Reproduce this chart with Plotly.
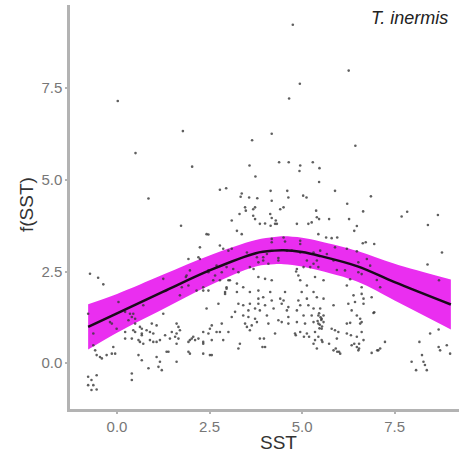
import plotly.graph_objects as go

# fitted smooth f(SST) and its confidence half-width
curve_sst = [-0.78, 0.0, 1.25, 2.5, 3.75, 4.25, 4.5, 5.0, 5.5, 6.5, 7.5, 9.02]
curve_f = [0.99, 1.36, 1.95, 2.53, 3.00, 3.07, 3.08, 3.03, 2.92, 2.64, 2.21, 1.60]
curve_half = [0.62, 0.53, 0.47, 0.41, 0.36, 0.37, 0.38, 0.39, 0.40, 0.42, 0.50, 0.68]

# partial residuals (SST, f(SST))
obs = [
    (0.02, 7.15), (1.78, 6.33), (0.5, 5.73), (2.03, 5.36), (3.65, 6.08), (3.58, 5.39), (3.74, 5.09),
    (0.85, 4.49), (2.78, 4.73), (2.95, 4.77), (4.75, 9.23), (6.26, 7.98), (4.94, 7.62), (4.65, 7.22),
    (4.18, 6.26), (6.44, 5.93), (4.38, 5.48), (4.64, 5.48), (4.95, 5.39), (4.93, 5.24), (5.29, 5.48),
    (5.47, 5.32), (5.46, 4.94), (5.89, 4.70), (6.86, 4.55), (4.15, 4.70), (3.34, 4.54), (3.57, 4.52),
    (3.79, 4.50), (5.03, 4.57), (5.12, 4.52), (3.37, 4.63), (4.18, 4.43), (4.60, 4.70), (4.63, 4.52),
    (6.22, 4.35), (6.65, 4.14), (7.69, 4.0), (7.84, 4.13), (8.67, 4.04), (6.27, 3.93), (8.4, 3.77),
    (6.48, 3.74), (6.41, 3.61), (5.95, 3.43), (5.80, 3.41), (6.64, 3.27), (6.72, 3.30), (6.95, 3.25),
    (8.78, 3.02), (8.39, 2.69), (8.70, 2.26),
    (5.89, 3.16), (6.21, 3.12), (6.48, 3.05), (6.52, 2.75), (6.75, 2.84), (6.84, 2.66), (5.94, 2.54),
    (6.16, 2.53), (6.52, 2.48), (6.61, 2.43), (7.02, 2.27), (6.30, 2.29), (7.11, 2.07), (6.21, 2.12),
    (6.61, 2.07), (5.85, 2.80),
    (6.39, 1.85), (6.61, 1.89), (6.88, 1.80), (6.66, 1.76), (5.85, 1.58), (6.25, 1.62), (6.43, 1.67),
    (6.66, 1.62), (6.34, 1.44), (6.93, 1.37), (6.48, 1.30), (6.57, 1.21), (6.21, 1.08), (6.30, 1.10),
    (6.57, 1.08), (6.61, 1.12), (5.80, 0.94), (5.89, 0.90), (5.98, 0.85), (6.21, 0.81), (6.61, 0.85),
    (5.94, 0.67), (6.48, 0.72), (6.66, 0.63), (6.34, 0.49), (6.48, 0.44), (6.52, 0.35), (5.85, 0.35),
    (6.03, 0.26), (6.88, 0.28), (7.06, 0.35), (7.11, 0.40), (7.24, 0.58), (8.46, 0.81), (8.69, 0.92),
    (8.17, 0.58), (8.69, 0.44), (8.73, 0.35), (8.91, 0.49), (9.0, 0.26), (8.24, 0.22), (8.28, 0.04),
    (8.32, -0.05), (8.37, -0.19), (7.96, 0.04), (8.08, -0.19), (6.95, 1.39), (6.0, 0.31), (6.41, 0.53),
    (6.54, 0.40), (7.03, 0.35),
    (3.46, 4.25), (3.68, 4.20), (3.73, 4.25), (3.31, 4.07), (3.10, 3.89), (4.41, 4.20), (4.50, 4.25),
    (4.14, 4.07), (4.18, 3.96), (4.27, 3.80), (4.32, 3.80), (3.86, 3.80), (4.0, 3.81), (3.68, 4.02),
    (3.73, 3.93), (4.86, 3.80), (5.17, 3.80), (5.26, 3.84), (5.38, 4.16), (5.40, 3.98), (3.24, 3.61),
    (3.37, 3.52), (2.42, 3.52), (5.44, 3.52), (5.65, 3.43), (3.48, 4.16), (4.29, 3.89), (4.15, 3.75),
    (5.46, 3.93), (5.73, 3.93),
    (4.18, 3.39), (4.18, 3.30), (4.50, 3.43), (4.54, 3.32), (4.95, 3.34), (4.95, 3.25), (2.87, 3.12),
    (3.01, 3.07), (3.10, 3.12), (3.51, 3.02), (3.78, 2.89), (3.95, 2.89), (4.05, 2.98), (4.36, 2.87),
    (4.59, 3.07), (4.72, 3.07), (4.95, 3.02), (5.13, 2.80), (5.31, 3.02), (5.40, 2.80), (5.44, 2.62),
    (5.49, 3.07), (5.67, 2.98), (2.47, 2.53), (2.65, 2.39), (3.14, 2.57), (3.28, 2.48), (3.59, 2.62),
    (3.69, 2.57), (3.82, 2.75), (3.95, 2.80), (4.09, 2.71), (4.36, 2.80), (4.86, 2.57), (5.04, 2.62),
    (5.22, 2.62), (5.31, 2.71),
    (3.01, 2.26), (3.24, 2.17), (3.41, 2.07), (3.82, 2.35), (4.0, 2.30), (4.18, 2.26), (4.84, 2.50),
    (4.90, 2.39), (4.95, 2.26), (5.13, 2.12), (5.35, 2.35), (5.58, 2.26), (2.96, 2.07), (2.33, 2.07),
    (2.92, 1.94), (3.24, 1.94), (3.59, 1.94), (3.82, 1.98), (4.14, 1.94), (4.54, 1.94), (4.99, 1.94),
    (5.31, 1.94), (3.82, 1.76), (3.95, 1.80), (4.18, 1.71), (4.41, 1.76), (4.50, 1.71), (4.90, 1.71),
    (5.13, 1.76), (5.40, 1.80), (5.58, 1.76), (2.74, 1.62), (3.28, 1.62), (3.41, 1.58), (3.59, 1.62),
    (3.82, 1.62), (4.0, 1.58), (4.45, 1.62), (4.63, 1.53), (4.95, 1.58), (5.17, 1.58), (2.42, 1.49),
    (3.19, 1.40), (3.55, 1.44), (3.73, 1.49), (3.86, 1.44), (4.23, 1.49), (4.59, 1.44), (4.86, 1.44),
    (5.31, 1.49), (5.49, 1.49), (3.10, 1.26), (3.41, 1.30), (3.55, 1.26), (3.73, 1.21), (4.05, 1.30),
    (4.36, 1.17), (4.63, 1.26), (5.04, 1.30), (5.26, 1.30), (5.44, 1.30), (5.53, 1.21), (2.56, 1.03),
    (2.83, 1.08), (3.46, 1.08), (3.51, 0.99), (3.64, 1.03), (3.78, 1.12), (4.09, 1.08), (4.45, 1.12),
    (4.63, 1.08), (4.86, 1.12), (5.08, 1.08), (5.31, 1.12), (5.44, 1.08), (5.58, 1.12), (2.33, 0.85),
    (2.47, 0.81), (2.69, 0.85), (3.01, 0.85), (3.59, 0.90), (4.27, 0.81), (4.81, 0.81), (4.95, 0.85),
    (5.13, 0.81), (5.35, 0.85), (5.53, 0.94), (2.33, 0.58), (2.56, 0.63), (2.87, 0.63), (3.86, 0.67),
    (5.35, 0.63), (5.53, 0.63), (5.44, 0.72), (3.32, 0.53), (3.28, 0.40), (4.0, 0.44), (5.40, 0.40),
    (5.31, 0.53), (2.33, 0.26), (2.51, 0.22),
    (5.46, 1.36), (5.50, 1.25), (5.52, 1.18), (5.48, 1.05), (5.54, 1.00), (5.42, 1.15), (5.58, 1.30),
    (5.47, 0.95), (3.93, 0.44), (3.97, 0.67), (4.83, 0.76), (5.05, 0.72), (5.19, 0.72), (5.55, 0.58),
    (5.91, 0.40), (5.73, 0.53), (5.95, 0.31), (6.32, 0.76), (6.54, 0.53),
    (0.04, 1.67), (-0.78, 1.35), (-0.64, 0.81), (0.22, 1.40), (0.35, 1.35), (0.44, 1.35), (0.40, 1.26),
    (-0.19, 1.12), (-0.14, 1.08), (0.31, 1.17), (0.49, 1.21), (0.71, 1.58), (-0.01, 0.94), (0.22, 0.85),
    (0.44, 0.90), (1.25, 1.35), (0.49, 1.08), (0.62, 0.99), (0.67, 0.94), (0.49, 0.85), (0.67, 0.81),
    (0.94, 1.08), (0.89, 0.85), (0.98, 0.81), (0.22, 0.67), (0.40, 0.67), (0.58, 0.63), (0.62, 0.58),
    (0.71, 0.53), (0.98, 0.58), (0.67, 0.76), (1.07, 0.58), (1.16, 0.63), (1.30, 0.76), (1.43, 0.67),
    (1.61, 1.08), (1.66, 0.99), (1.70, 0.90), (1.61, 0.81), (1.48, 0.85), (1.57, 0.72), (1.66, 0.67),
    (1.61, 0.53), (1.93, 0.58), (2.02, 0.67), (2.11, 0.63), (2.20, 0.67),
    (-0.59, 0.35), (-0.55, 0.22), (-0.41, 0.13), (-0.28, 0.22), (-0.14, 0.26), (-0.10, 0.44), (0.58, 0.22),
    (0.67, 0.08), (1.07, 0.17), (1.16, 0.04), (1.39, 0.31), (1.61, 0.04), (0.85, -0.14), (1.21, -0.19),
    (1.93, 0.31), (0.40, -0.28), (0.40, -0.46), (-0.55, -0.33), (-0.78, -0.37), (-0.69, -0.46),
    (-0.78, -0.60), (-0.64, -0.60), (-0.69, -0.73), (-0.55, -0.72),
    (1.73, 3.75), (-0.73, 2.44), (-0.51, 2.33), (-0.37, 2.15), (1.25, 2.30), (1.86, 2.35), (1.93, 2.84),
    (2.20, 2.89), (2.24, 3.16), (1.97, 2.53), (2.47, 3.51), (2.78, 3.21), (1.70, 1.85), (2.15, 1.98),
    (2.33, 1.98), (2.47, 1.98), (1.97, 0.63), (2.06, 0.72), (2.33, 0.53), (2.51, 0.94), (2.78, 0.85),
    (1.97, 0.26), (2.56, 0.22), (1.12, -0.10), (1.34, 0.31), (-0.05, 0.26), (-0.46, 0.17), (-0.64, 0.49),
    (0.80, 0.90), (1.07, 1.03), (0.89, 0.63), (1.88, 2.39), (2.24, 2.84), (2.47, 2.48), (2.69, 2.66),
    (2.83, 2.48), (2.96, 2.62), (1.75, 2.07), (1.93, 2.12), (2.60, 2.26), (2.78, 2.26), (3.05, 2.26),
    (2.96, 2.03), (2.92, 1.89),
]
obs_sst = [p[0] for p in obs]
obs_f = [p[1] for p in obs]

x_ticks = [0.0, 2.5, 5.0, 7.5]
y_ticks = [0.0, 2.5, 5.0, 7.5]
tick_labels_x = ["0.0", "2.5", "5.0", "7.5"]
tick_labels_y = ["0.0", "2.5", "5.0", "7.5"]

upper = [c + h for c, h in zip(curve_f, curve_half)]
lower = [c - h for c, h in zip(curve_f, curve_half)]

band_color = "rgb(234,46,240)"
fig = go.Figure()
fig.add_trace(go.Scatter(x=curve_sst, y=upper, mode="lines",
                         line=dict(width=0, color=band_color, shape="spline"),
                         hoverinfo="skip", showlegend=False))
fig.add_trace(go.Scatter(x=curve_sst, y=lower, mode="lines", fill="tonexty", fillcolor=band_color,
                         line=dict(width=0, color=band_color, shape="spline"),
                         hoverinfo="skip", showlegend=False))
fig.add_trace(go.Scatter(x=obs_sst, y=obs_f, mode="markers",
                         marker=dict(size=2.6, color="rgba(55,55,55,0.8)"), showlegend=False))
fig.add_trace(go.Scatter(x=curve_sst, y=curve_f, mode="lines",
                         line=dict(color="#1a0a1a", width=2.5, shape="spline"), showlegend=False))

axis_common = dict(showgrid=False, zeroline=False, showline=True, linecolor="#b3b3b3", linewidth=2.5,
                   ticks="outside", ticklen=2, tickwidth=1.5, tickcolor="#b3b3b3",
                   tickfont=dict(family="Liberation Sans, Arial, sans-serif", size=15, color="#777777"))
fig.update_xaxes(range=[-1.27, 9.24], tickvals=x_ticks, ticktext=tick_labels_x, **axis_common)
fig.update_yaxes(range=[-1.25, 9.77], tickvals=y_ticks, ticktext=tick_labels_y, **axis_common)

fig.update_layout(
    width=459, height=455,
    margin=dict(l=70, r=0, t=5, b=46),
    plot_bgcolor="white", paper_bgcolor="white",
    font=dict(family="Liberation Sans, Arial, sans-serif"),
    annotations=[
        dict(text="<i>T. inermis</i>", x=0.976, y=0.968, xref="paper", yref="paper",
             xanchor="right", yanchor="middle", showarrow=False,
             font=dict(size=18, color="#222222")),
        dict(text="SST", x=0.537, y=-0.082, xref="paper", yref="paper",
             xanchor="center", yanchor="middle", showarrow=False,
             font=dict(size=19, color="#333333")),
        dict(text="f(SST)", x=-0.1105, y=0.505, xref="paper", yref="paper",
             xanchor="center", yanchor="middle", showarrow=False, textangle=-90,
             font=dict(size=19, color="#333333")),
    ],
)

fig.write_html("out.html")
